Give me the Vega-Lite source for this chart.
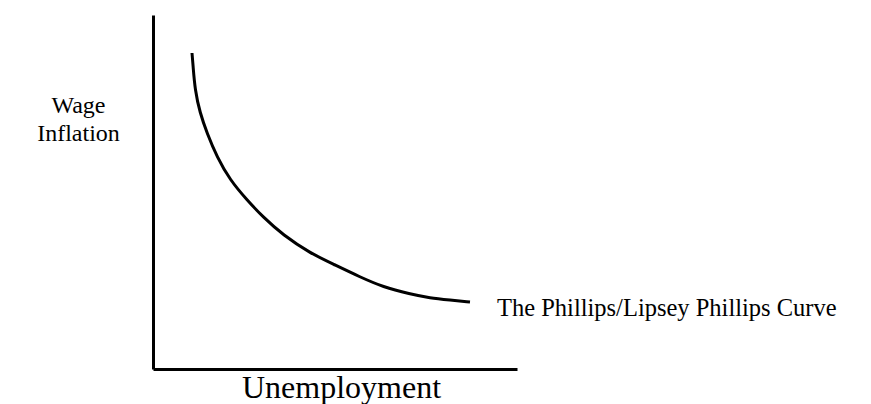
{
  "$schema": "https://vega.github.io/schema/vega-lite/v6.json",
  "autosize": "none",
  "width": 364,
  "height": 354,
  "padding": {"left": 153, "top": 15, "right": 354, "bottom": 35},
  "background": "white",
  "config": {"view": {"stroke": null}, "font": "Liberation Serif"},
  "data": {"values": [
    {"u": 39, "w": 316},
    {"u": 40, "w": 304},
    {"u": 42, "w": 279},
    {"u": 47, "w": 256},
    {"u": 54, "w": 236},
    {"u": 64, "w": 212},
    {"u": 77, "w": 189},
    {"u": 94, "w": 169},
    {"u": 110, "w": 152},
    {"u": 130, "w": 134},
    {"u": 157, "w": 116},
    {"u": 180, "w": 105},
    {"u": 207, "w": 92},
    {"u": 230, "w": 82},
    {"u": 257, "w": 75},
    {"u": 277, "w": 71},
    {"u": 297, "w": 69},
    {"u": 317, "w": 67, "label": "The Phillips/Lipsey Phillips Curve"}
  ]},
  "layer": [
    {
      "mark": {"type": "line", "color": "black", "strokeWidth": 3, "interpolate": "basis"},
      "encoding": {
        "x": {"field": "u", "type": "quantitative", "scale": {"domain": [0, 364], "nice": false},
          "axis": {"title": "Unemployment", "labels": false, "ticks": false, "grid": false,
            "domainColor": "black", "domainWidth": 3, "titleFontSize": 32, "titleFontWeight": "normal",
            "titleFont": "Liberation Serif", "titleColor": "black", "titleX": 188, "titleY": 28, "titleBaseline": "alphabetic"}},
        "y": {"field": "w", "type": "quantitative", "scale": {"domain": [0, 354], "nice": false},
          "axis": {"title": ["Wage", "Inflation"], "labels": false, "ticks": false, "grid": false,
            "domainColor": "black", "domainWidth": 3, "titleFontSize": 24, "titleFontWeight": "normal",
            "titleFont": "Liberation Serif", "titleColor": "black", "titleAngle": 0, "titleAlign": "center",
            "titleBaseline": "middle", "titleX": -75, "titleY": 90, "titleLineHeight": 28}}
      }
    },
    {
      "transform": [{"filter": "datum.label != null"}],
      "mark": {"type": "text", "align": "left", "baseline": "alphabetic", "dx": 27, "dy": 14, "fontSize": 24.5, "font": "Liberation Serif", "color": "black"},
      "encoding": {
        "x": {"field": "u", "type": "quantitative"},
        "y": {"field": "w", "type": "quantitative"},
        "text": {"field": "label"}
      }
    }
  ]
}
